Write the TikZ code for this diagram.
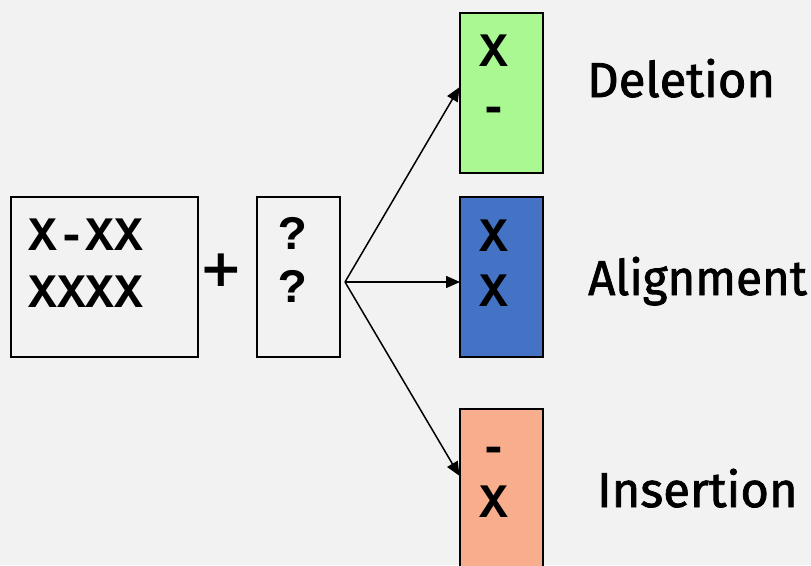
\documentclass[tikz,border=0pt]{standalone}
\usepackage{fontspec}
\setmainfont{Fira Sans}
\newfontfamily\labelfont{Fira Sans}[FakeBold=1.6]
\newfontfamily\monobold{Liberation Mono}[BoldFont={* Bold}]
\newfontfamily\plusfont{DejaVu Sans}
\usetikzlibrary{arrows.meta}
\definecolor{bgpanel}{HTML}{F2F2F2}
\definecolor{delgreen}{HTML}{AAF891}
\definecolor{alnblue}{HTML}{4472C4}
\definecolor{inssalmon}{HTML}{F8AE8C}
\tikzset{
  seqbox/.style={draw=black, line width=2pt, rectangle, inner sep=0pt},
  seqtxt/.style={font=\monobold\bfseries\fontsize{48}{48}\selectfont, inner sep=0pt, anchor=base},
  label/.style={font=\labelfont\fontsize{49}{49}\selectfont, inner sep=0pt, anchor=base west},
  link/.style={line width=1.5pt, -{Triangle[length=14pt,width=12pt]}, shorten >=-1pt}
}
\begin{document}
\begin{tikzpicture}[x=1pt,y=-1pt]
  \fill[bgpanel] (0,0) rectangle (811,565);
  \useasboundingbox (0,0) rectangle (811,565);

  % source pair and the unknown column
  \node[seqbox, minimum width=187pt, minimum height=160pt] (pair) at (104.5,277) {};
  \node[seqtxt, anchor=base west] (r1) at (28,250) {X-XX};
  \node[seqtxt, anchor=base west] (r2) at (28,307) {XXXX};
  \node[inner sep=0pt, font=\plusfont\bfseries\fontsize{52}{52}\selectfont] (plus) at (221,270) {+};
  \node[seqbox, minimum width=83pt, minimum height=160pt] (col) at (298.5,277) {};
  \node[seqtxt] (q1) at (293,249) {?};
  \node[seqtxt] (q2) at (293,302) {?};

  % the three outcomes
  \node[seqbox, fill=delgreen, minimum width=83pt, minimum height=160pt] (del) at (501.5,92.5) {};
  \node[seqtxt] (d1) at (494,66) {X};
  \node[seqtxt] (d2) at (494,122) {-};
  \node[seqbox, fill=alnblue, minimum width=83pt, minimum height=160pt] (aln) at (501.5,277) {};
  \node[seqtxt] (a1) at (494,251) {X};
  \node[seqtxt] (a2) at (494,306) {X};
  \node[seqbox, fill=inssalmon, minimum width=83pt, minimum height=160pt] (ins) at (501.5,489) {};
  \node[seqtxt] (i1) at (494,462) {-};
  \node[seqtxt] (i2) at (494,517) {X};

  \coordinate (src) at (345,282);
  \draw[link] (src) -- ([yshift=4.5pt]del.west);
  \draw[link] (src) -- ([yshift=-5pt]aln.west);
  \draw[link] (src) -- ([yshift=14pt]ins.west);

  \node[label] (ldel) at (587,97) {Deletion};
  \node[label] (laln) at (588,295) {\scalebox{0.97}[1]{Alignment}};
  \node[label] (lins) at (597,507) {Insertion};
\end{tikzpicture}
\end{document}
